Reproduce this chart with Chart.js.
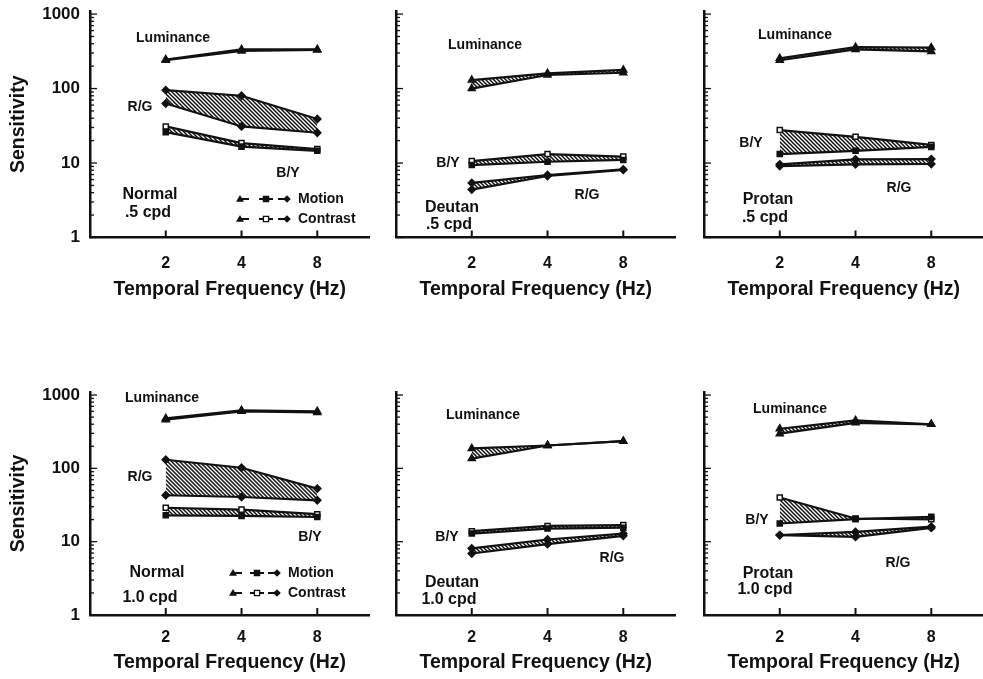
<!DOCTYPE html>
<html>
<head>
<meta charset="utf-8">
<script src="https://cdn.jsdelivr.net/npm/chart.js@4.4.0/dist/chart.umd.min.js"></script>
<style>
html, body { margin: 0; padding: 0; background: #fff; overflow: hidden; }
#wrap { position: relative; width: 983px; height: 679px; overflow: hidden; }
#wrap canvas { position: absolute; }
</style>
</head>
<body>
<div id="wrap"></div>
<script>
const freqs = [2, 4, 8];
const yTickLabels = [1, 10, 100, 1000];
const observers = ['Normal', 'Deutan', 'Protan', 'Normal', 'Deutan', 'Protan'];
const spatialFreqs = ['.5 cpd', '.5 cpd', '.5 cpd', '1.0 cpd', '1.0 cpd', '1.0 cpd'];

// sensitivity at 2, 4, 8 Hz - one row per panel
const lumMotion = [
  [240, 320, 330],
  [100, 152, 163],
  [240, 335, 315],
  [460, 600, 580],
  [136, 205, 235],
  [297, 418, 398]
];
const lumContrast = [
  [245, 335, 335],
  [130, 160, 178],
  [255, 360, 355],
  [480, 620, 600],
  [187, 205, 235],
  [347, 450, 398]
];
const byMotion = [
  [26, 16.6, 14.6],
  [9.4, 10.4, 11.0],
  [13.2, 14.6, 16.5],
  [22.9, 22.5, 21.7],
  [12.9, 15.1, 15.5],
  [17.7, 20.3, 21.8]
];
const byContrast = [
  [31, 18.5, 15.4],
  [10.6, 13.2, 12.2],
  [27.7, 22.5, 17.5],
  [29, 27.4, 23.7],
  [13.9, 16.4, 16.8],
  [40, 20.7, 20.2]
];
const rgMotion = [
  [63, 31, 25.5],
  [4.4, 6.7, 8.1],
  [9.1, 9.6, 9.7],
  [43, 40.7, 36.7],
  [6.9, 9.25, 12.0],
  [12.3, 11.6, 15.4]
];
const rgContrast = [
  [95, 80, 39],
  [5.4, 6.9, 8.2],
  [9.6, 11.2, 11.3],
  [131, 102, 53],
  [8.1, 10.7, 12.9],
  [12.3, 13.6, 16.0]
];

// text placement inside each plot, px from the top-left of the plot area
const labelPos = [
  { lum: [83, 27], rg: [50, 96], by: [198, 162], name: [60, 184], cpd: [58, 202], legend: { x: [150, 176, 197, 208], y: [188, 208] } },
  { lum: [89, 34], by: [52, 152], rg: [191, 184], name: [56, 197], cpd: [53, 214] },
  { lum: [91, 24], by: [47, 132], rg: [195, 177], name: [64, 189], cpd: [61, 207] },
  { lum: [72, 6], rg: [50, 85], by: [220, 145], name: [67, 181], cpd: [60, 206], legend: { x: [143, 167, 187, 198], y: [181, 201] } },
  { lum: [87, 23], by: [51, 145], rg: [216, 166], name: [56, 191], cpd: [53, 208] },
  { lum: [86, 17], by: [53, 128], rg: [194, 171], name: [64, 182], cpd: [61, 198] }
];

const colLeft = [0, 306, 614];
const rows = [
  { top: 0, padTop: 11, padBottom: 0, xHeight: 63.5, tickPad: 16 },
  { top: 378, padTop: 14, padBottom: 5, xHeight: 59, tickPad: 12.5 }
];
const INK = '#111';
const FONT = '"Liberation Sans", Arial, sans-serif';

function makeHatch() {
  const c = document.createElement('canvas');
  c.width = 4; c.height = 4;
  const g = c.getContext('2d');
  g.fillStyle = '#fff';
  g.fillRect(0, 0, 4, 4);
  g.strokeStyle = INK;
  g.lineWidth = 1.5;
  g.beginPath();
  g.moveTo(-1, -1); g.lineTo(5, 5);
  g.moveTo(-1, 3); g.lineTo(1, 5);
  g.moveTo(3, -1); g.lineTo(5, 1);
  g.stroke();
  return g.createPattern(c, 'repeat');
}
const hatch = makeHatch();

function series(vals) {
  return vals.map((v, i) => ({ x: freqs[i], y: v }));
}

function lineSet(vals, style, open, fillPrev) {
  return {
    data: series(vals),
    borderColor: INK,
    borderWidth: 2.2,
    pointStyle: style,
    pointRadius: style === 'triangle' ? 4 : 3.6,
    pointBackgroundColor: open ? '#fff' : INK,
    pointBorderColor: INK,
    pointBorderWidth: 1.5,
    tension: 0,
    fill: fillPrev ? '-1' : false,
    backgroundColor: hatch
  };
}

function tri(ctx, x, y, r) {
  ctx.beginPath();
  ctx.moveTo(x, y - r);
  ctx.lineTo(x + r, y + r * 0.7);
  ctx.lineTo(x - r, y + r * 0.7);
  ctx.closePath();
  ctx.fill();
}
function sq(ctx, x, y, r, open) {
  ctx.fillStyle = open ? '#fff' : INK;
  ctx.fillRect(x - r, y - r, 2 * r, 2 * r);
  ctx.strokeRect(x - r, y - r, 2 * r, 2 * r);
  ctx.fillStyle = INK;
}
function dia(ctx, x, y, r) {
  ctx.beginPath();
  ctx.moveTo(x, y - r); ctx.lineTo(x + r, y); ctx.lineTo(x, y + r); ctx.lineTo(x - r, y);
  ctx.closePath();
  ctx.fill();
}

function decoPlugin(idx) {
  const pos = labelPos[idx];
  return {
    id: 'deco',
    afterDraw(chart) {
      const { ctx, chartArea: a, scales: { x, y } } = chart;
      ctx.save();
      ctx.strokeStyle = INK;
      ctx.fillStyle = INK;
      // inner tick marks on the y axis
      ctx.lineWidth = 1.3;
      y.ticks.forEach(t => {
        const py = y.getPixelForValue(t.value);
        const len = yTickLabels.includes(t.value) ? 7 : 4;
        ctx.beginPath();
        ctx.moveTo(a.left, py);
        ctx.lineTo(a.left + len, py);
        ctx.stroke();
      });
      // inner tick marks on the x axis
      ctx.lineWidth = 2;
      x.ticks.forEach(t => {
        const px = x.getPixelForValue(t.value);
        ctx.beginPath();
        ctx.moveTo(px, a.bottom);
        ctx.lineTo(px, a.bottom - 7);
        ctx.stroke();
      });
      ctx.textAlign = 'center';
      ctx.textBaseline = 'middle';
      ctx.font = 'bold 14px ' + FONT;
      ctx.fillText('Luminance', a.left + pos.lum[0], a.top + pos.lum[1]);
      ctx.fillText('R/G', a.left + pos.rg[0], a.top + pos.rg[1]);
      ctx.fillText('B/Y', a.left + pos.by[0], a.top + pos.by[1]);
      ctx.font = 'bold 16px ' + FONT;
      ctx.fillText(observers[idx], a.left + pos.name[0], a.top + pos.name[1]);
      ctx.fillText(spatialFreqs[idx], a.left + pos.cpd[0], a.top + pos.cpd[1]);
      if (pos.legend) {
        const lx = pos.legend.x.map(v => a.left + v);
        pos.legend.y.forEach((ly, row) => {
          const yy = a.top + ly;
          ctx.lineWidth = 1.8;
          ctx.beginPath();
          ctx.moveTo(lx[0], yy); ctx.lineTo(lx[0] + 9, yy);
          ctx.moveTo(lx[1] - 7, yy); ctx.lineTo(lx[1] + 7, yy);
          ctx.moveTo(lx[2] - 9, yy); ctx.lineTo(lx[2], yy);
          ctx.stroke();
          ctx.lineWidth = 1.3;
          tri(ctx, lx[0], yy, 4);
          sq(ctx, lx[1], yy, 2.6, row === 1);
          dia(ctx, lx[2], yy, 3.8);
          ctx.textAlign = 'left';
          ctx.font = 'bold 14px ' + FONT;
          ctx.fillText(row === 0 ? 'Motion' : 'Contrast', lx[3], yy);
        });
      }
      ctx.restore();
    }
  };
}

const wrap = document.getElementById('wrap');

for (let i = 0; i < 6; i++) {
  const col = i % 3;
  const row = rows[Math.floor(i / 3)];
  const canvas = document.createElement('canvas');
  canvas.width = 375;
  canvas.height = 301;
  canvas.style.left = colLeft[col] + 'px';
  canvas.style.top = row.top + 'px';
  wrap.appendChild(canvas);

  new Chart(canvas.getContext('2d'), {
    type: 'line',
    data: {
      datasets: [
        lineSet(lumMotion[i], 'triangle', false, false),
        lineSet(lumContrast[i], 'triangle', false, true),
        lineSet(byMotion[i], 'rect', false, false),
        lineSet(byContrast[i], 'rect', true, true),
        lineSet(rgMotion[i], 'rectRot', false, false),
        lineSet(rgContrast[i], 'rectRot', false, true)
      ]
    },
    options: {
      responsive: false,
      animation: false,
      layout: { padding: { top: row.padTop, bottom: row.padBottom, left: 0, right: 0 } },
      plugins: { legend: { display: false }, tooltip: { enabled: false } },
      scales: {
        x: {
          type: 'logarithmic',
          min: 1,
          max: 12.9,
          afterBuildTicks: s => { s.ticks = freqs.map(v => ({ value: v })); },
          afterFit: s => { s.height = row.xHeight; s.paddingLeft = 0; s.paddingRight = 0; },
          grid: { drawOnChartArea: false, drawTicks: false },
          border: { color: INK, width: 2.5 },
          ticks: {
            autoSkip: false,
            maxRotation: 0,
            padding: row.tickPad,
            color: INK,
            font: { family: FONT, size: 16, weight: 'bold' },
            callback: v => String(v)
          },
          title: {
            display: true,
            text: 'Temporal Frequency (Hz)',
            color: INK,
            padding: 0,
            font: { family: FONT, size: 19.5, weight: 'bold' }
          }
        },
        y: {
          type: 'logarithmic',
          min: 1,
          max: 1100,
          afterBuildTicks: s => {
            const t = [];
            for (let d = 1; d < 1000; d *= 10) {
              for (let m = 1; m < 10; m++) t.push({ value: m * d });
            }
            t.push({ value: 1000 });
            s.ticks = t;
          },
          afterFit: s => { s.width = 90; s.paddingTop = 0; s.paddingBottom = 0; },
          grid: { drawOnChartArea: false, drawTicks: false },
          border: { color: INK, width: 2.5 },
          ticks: {
            autoSkip: false,
            padding: 10,
            color: INK,
            font: { family: FONT, size: 17, weight: 'bold' },
            callback: v => (col === 0 && yTickLabels.includes(v)) ? String(v) : ''
          },
          title: {
            display: col === 0,
            text: 'Sensitivity',
            color: INK,
            padding: { top: 7, bottom: 0 },
            font: { family: FONT, size: 19.5, weight: 'bold' }
          }
        }
      }
    },
    plugins: [decoPlugin(i)]
  });
}
</script>
</body>
</html>
